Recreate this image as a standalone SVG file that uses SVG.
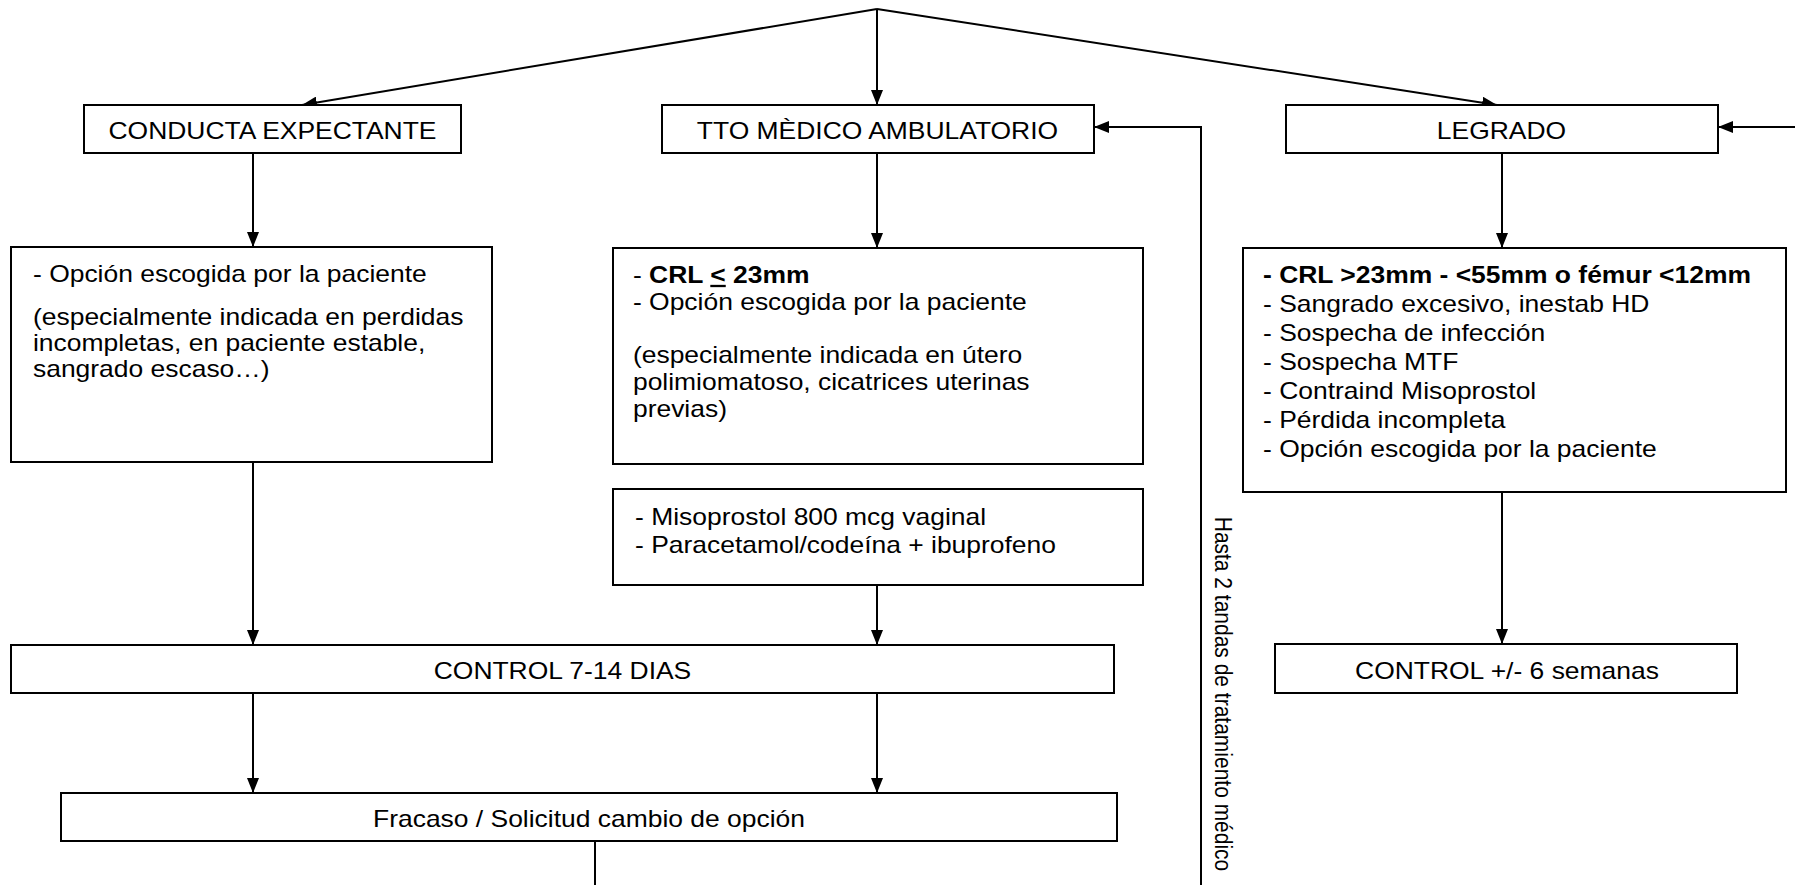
<svg xmlns="http://www.w3.org/2000/svg" width="1795" height="885" viewBox="0 0 1795 885">
<defs>
<style>
.box{fill:#fff;stroke:#000;stroke-width:2}
.ln{fill:none;stroke:#000;stroke-width:2}
text{font-family:"Liberation Sans",Arial,sans-serif;font-size:23px;fill:#000}
.c{text-anchor:middle}
.b{font-weight:bold}
</style>
<marker id="ah" markerUnits="userSpaceOnUse" markerWidth="15" markerHeight="12" refX="15" refY="6" orient="auto">
<path d="M0,0 L15,6 L0,12 z" fill="#000"/>
</marker>
</defs>
<rect width="1795" height="885" fill="#fff"/>

<g id="connectors">
<line class="ln" x1="877" y1="9" x2="302" y2="105" marker-end="url(#ah)"/>
<line class="ln" x1="877" y1="9" x2="877" y2="105" marker-end="url(#ah)"/>
<line class="ln" x1="877" y1="9" x2="1497" y2="105" marker-end="url(#ah)"/>
<line class="ln" x1="253" y1="153" x2="253" y2="247" marker-end="url(#ah)"/>
<line class="ln" x1="877" y1="153" x2="877" y2="248" marker-end="url(#ah)"/>
<line class="ln" x1="1502" y1="153" x2="1502" y2="248" marker-end="url(#ah)"/>
<line class="ln" x1="253" y1="462" x2="253" y2="645" marker-end="url(#ah)"/>
<line class="ln" x1="877" y1="585" x2="877" y2="645" marker-end="url(#ah)"/>
<line class="ln" x1="1502" y1="492" x2="1502" y2="644" marker-end="url(#ah)"/>
<line class="ln" x1="253" y1="693" x2="253" y2="793" marker-end="url(#ah)"/>
<line class="ln" x1="877" y1="693" x2="877" y2="793" marker-end="url(#ah)"/>
<line class="ln" x1="595" y1="841" x2="595" y2="885"/>
<polyline class="ln" points="1201,885 1201,127 1094,127" marker-end="url(#ah)"/>
<line class="ln" x1="1795" y1="127" x2="1718" y2="127" marker-end="url(#ah)"/>
<text transform="translate(1215,694) rotate(90) scale(1,1.15)" class="c" style="font-size:21px">Hasta 2 tandas de tratamiento médico</text>
</g>

<g id="conducta">
<rect class="box" x="84" y="105" width="377" height="48"/>
<text class="c" transform="scale(1.15,1)" x="236.96" y="139">CONDUCTA EXPECTANTE</text>
</g>
<g id="tto">
<rect class="box" x="662" y="105" width="432" height="48"/>
<text class="c" transform="scale(1.15,1)" x="763.04" y="139">TTO MÈDICO AMBULATORIO</text>
</g>
<g id="legrado">
<rect class="box" x="1286" y="105" width="432" height="48"/>
<text class="c" transform="scale(1.15,1)" x="1305.65" y="139">LEGRADO</text>
</g>

<g id="expectante-detalle">
<rect class="box" x="11" y="247" width="481" height="215"/>
<g transform="scale(1.15,1)">
<text x="28.7" y="282">- Opción escogida por la paciente</text>
<text x="28.7" y="325">(especialmente indicada en perdidas</text>
<text x="28.7" y="351">incompletas, en paciente estable,</text>
<text x="28.7" y="377">sangrado escaso…)</text>
</g>
</g>

<g id="tto-detalle">
<rect class="box" x="613" y="248" width="530" height="216"/>
<g transform="scale(1.15,1)">
<text x="550.4" y="283">- <tspan class="b">CRL <tspan text-decoration="underline">&lt;</tspan> 23mm</tspan></text>
<text x="550.4" y="310">- Opción escogida por la paciente</text>
<text x="550.4" y="363">(especialmente indicada en útero</text>
<text x="550.4" y="390">polimiomatoso, cicatrices uterinas</text>
<text x="550.4" y="417">previas)</text>
</g>
</g>

<g id="tto-pauta">
<rect class="box" x="613" y="489" width="530" height="96"/>
<g transform="scale(1.15,1)">
<text x="552.2" y="525">- Misoprostol 800 mcg vaginal</text>
<text x="552.2" y="553">- Paracetamol/codeína + ibuprofeno</text>
</g>
</g>

<g id="legrado-detalle">
<rect class="box" x="1243" y="248" width="543" height="244"/>
<g transform="scale(1.15,1)">
<text class="b" x="1098.3" y="283">- CRL &gt;23mm - &lt;55mm o fémur &lt;12mm</text>
<text x="1098.3" y="312">- Sangrado excesivo, inestab HD</text>
<text x="1098.3" y="341">- Sospecha de infección</text>
<text x="1098.3" y="370">- Sospecha MTF</text>
<text x="1098.3" y="399">- Contraind Misoprostol</text>
<text x="1098.3" y="428">- Pérdida incompleta</text>
<text x="1098.3" y="457">- Opción escogida por la paciente</text>
</g>
</g>

<g id="control-7-14">
<rect class="box" x="11" y="645" width="1103" height="48"/>
<text class="c" transform="scale(1.15,1)" x="489.13" y="679">CONTROL 7-14 DIAS</text>
</g>
<g id="control-6">
<rect class="box" x="1275" y="644" width="462" height="49"/>
<text class="c" transform="scale(1.15,1)" x="1310.43" y="679">CONTROL +/- 6 semanas</text>
</g>
<g id="fracaso">
<rect class="box" x="61" y="793" width="1056" height="48"/>
<text class="c" transform="scale(1.15,1)" x="512.17" y="827">Fracaso / Solicitud cambio de opción</text>
</g>
</svg>
